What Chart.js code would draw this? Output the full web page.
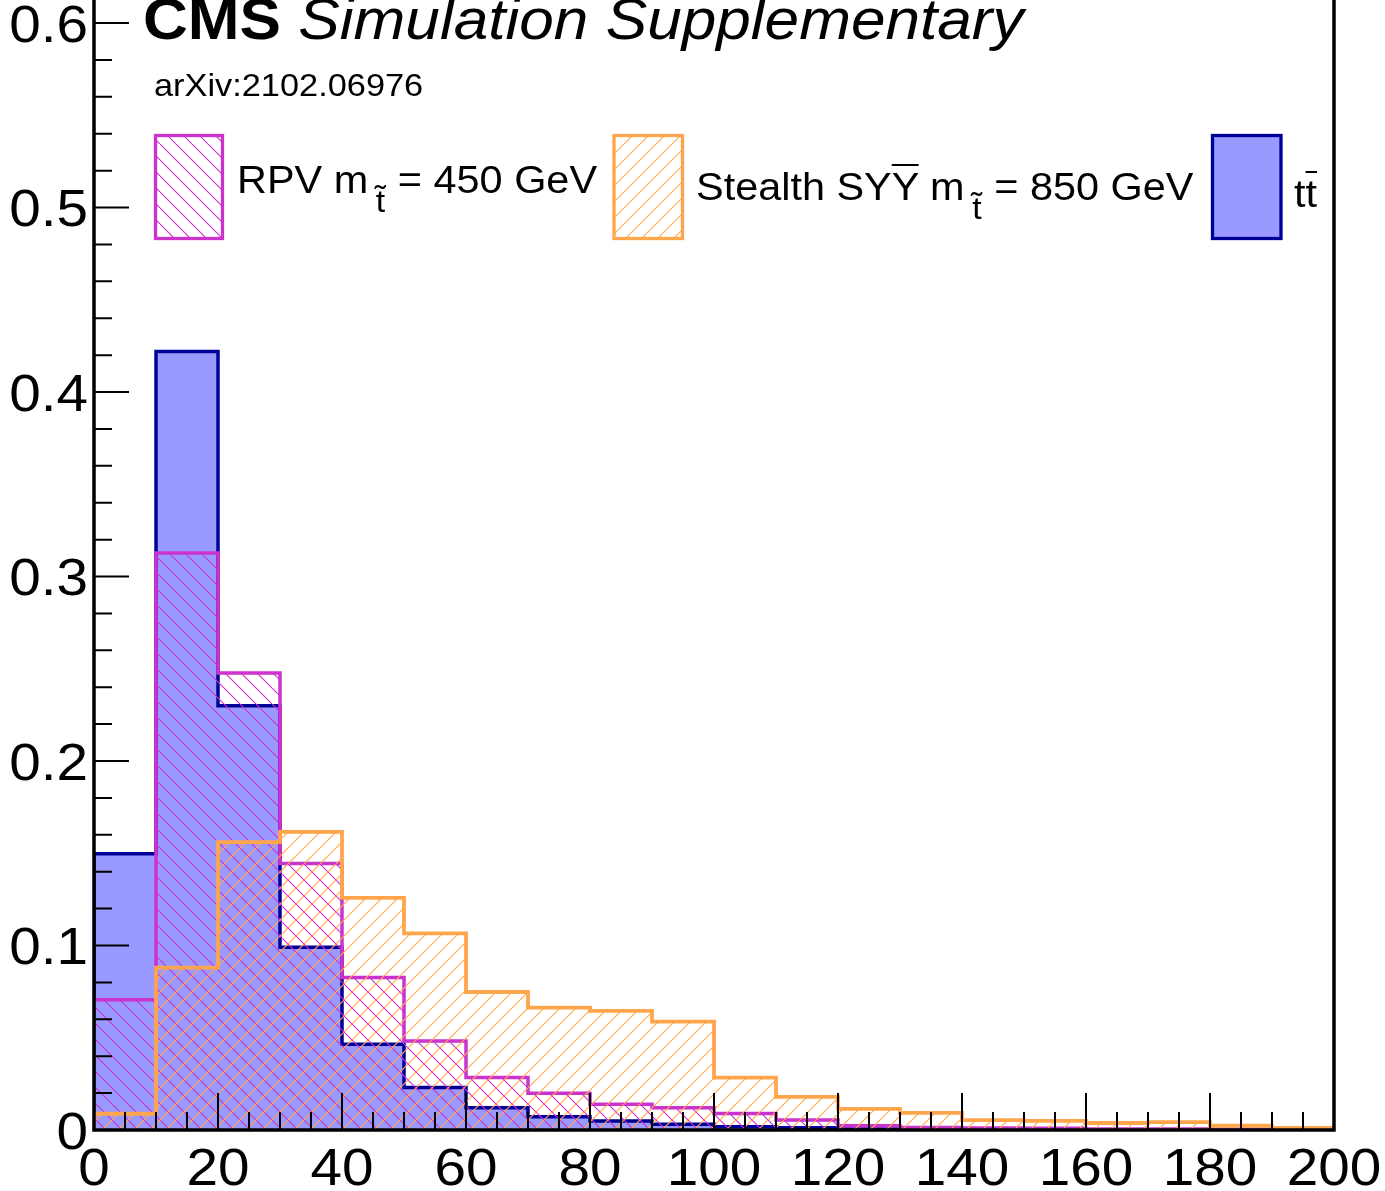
<!DOCTYPE html>
<html>
<head>
<meta charset="utf-8">
<style>
  body { margin: 0; background: #fff; }
  #wrap { position: relative; width: 1385px; height: 1191px; overflow: hidden; }
  #wrap canvas { position: absolute; left: 0; top: 0; }
  .txt { position: absolute; white-space: nowrap; font-family: "Liberation Sans", Arial, sans-serif;
         color: #000; line-height: 1; transform: scaleX(1.09); transform-origin: left top; }
  .ov { text-decoration: overline; text-decoration-thickness: 2px; }
  .sub { font-size: 31px; vertical-align: -18.5px; margin-left: 7px; margin-right: 1px; }
</style>
</head>
<body>
<div id="wrap">
  <canvas id="histo" width="1385" height="1191"></canvas>
  <div class="txt" style="left:143px; top:-9px; font-size:57px;"><b>CMS</b> <i>Simulation Supplementary</i></div>
  <div class="txt" style="left:154px; top:70px; font-size:31.5px;">arXiv:2102.06976</div>
  <div class="txt" style="left:237px; top:161px; font-size:38px;">RPV m<span class="sub">t&#x303;</span> = 450 GeV</div>
  <div class="txt" style="left:696px; top:168px; font-size:38px;">Stealth SY<span class="ov">Y</span> m<span class="sub">t&#x303;</span> = 850 GeV</div>
  <div class="txt" style="left:1294px; top:175px; font-size:38px;">t<span class="ov">t</span></div>
</div>

<script src="https://cdn.jsdelivr.net/npm/chart.js"></script>
<script>
  // lower edges of the 10-wide bins
  const binLow = [0, 10, 20, 30, 40, 50, 60, 70, 80, 90, 100, 110, 120, 130, 140, 150, 160, 170, 180, 190];
  const binWidth = 10;

  // normalised distributions
  const ttbar = [0.1497, 0.4220, 0.2300, 0.0990, 0.0465, 0.0231, 0.0121, 0.0072, 0.0049, 0.0031,
                 0.0018, 0.0012, 0.0006, 0.0004, 0.0003, 0.0002, 0.0001, 0.0001, 0.0001, 0.0001];
  const rpv450 = [0.0706, 0.3127, 0.2477, 0.1445, 0.0826, 0.0483, 0.0285, 0.0199, 0.0140, 0.0121,
                  0.0090, 0.0054, 0.0023, 0.0014, 0.0011, 0.0010, 0.0005, 0.0005, 0.0004, 0.0002];
  const stealth850 = [0.0088, 0.0880, 0.1560, 0.1616, 0.1258, 0.1066, 0.0748, 0.0663, 0.0646, 0.0587,
                      0.0284, 0.0180, 0.0114, 0.0093, 0.0054, 0.0049, 0.0038, 0.0043, 0.0023, 0.0011];

  const xTicks = ['0', '20', '40', '60', '80', '100', '120', '140', '160', '180', '200'];
  const yTicks = ['0', '0.1', '0.2', '0.3', '0.4', '0.5', '0.6'];

  const magenta = '#cc33cc';
  const orange = '#ffa64d';
  const navy = '#000099';
  const lightBlue = '#9999ff';

  // step outline of a histogram, closed down to zero at both ends
  function histPoints(vals) {
    const pts = [{ x: binLow[0], y: 0 }];
    vals.forEach((v, i) => pts.push({ x: binLow[i], y: v }));
    const end = binLow[binLow.length - 1] + binWidth;
    pts.push({ x: end, y: vals[vals.length - 1] });
    pts.push({ x: end, y: 0 });
    return pts;
  }

  // hatch pattern, dir 1 = "/" and -1 = "\"
  function hatch(color, dir) {
    const s = 16;
    const c = document.createElement('canvas');
    c.width = s; c.height = s;
    const g = c.getContext('2d');
    g.strokeStyle = color;
    g.lineWidth = 1.1;
    g.beginPath();
    for (let k = -1; k <= 1; k++) {
      if (dir > 0) { g.moveTo(k * s, s); g.lineTo(k * s + s, 0); }
      else { g.moveTo(k * s, 0); g.lineTo(k * s + s, s); }
    }
    g.stroke();
    return g.createPattern(c, 'repeat');
  }

  const ctxMain = document.getElementById('histo').getContext('2d');
  const rpvHatch = hatch(magenta, -1);
  const stealthHatch = hatch(orange, 1);

  // axes, ticks (drawn inside the frame, over the histograms) and legend boxes
  const frame = {
    id: 'frame',
    afterDatasetsDraw(chart) {
      const ctx = chart.ctx;
      const xs = chart.scales.x, ys = chart.scales.y;
      const a = chart.chartArea;
      ctx.save();
      ctx.strokeStyle = '#000';
      ctx.lineWidth = 2;
      ctx.beginPath();
      for (let v = 0; v <= 200; v += 5) {
        const px = xs.getPixelForValue(v);
        const len = v % 20 === 0 ? 37 : 18;
        ctx.moveTo(px, a.bottom); ctx.lineTo(px, a.bottom - len);
      }
      for (let k = 0; k <= 30; k++) {
        const py = ys.getPixelForValue(k * 0.02);
        if (py < a.top) continue;
        const len = k % 5 === 0 ? 35 : 18;
        ctx.moveTo(a.left, py); ctx.lineTo(a.left + len, py);
      }
      ctx.stroke();

      ctx.lineWidth = 3.5;
      ctx.beginPath();
      ctx.moveTo(a.left, a.top); ctx.lineTo(a.left, a.bottom);
      ctx.lineTo(a.right, a.bottom); ctx.lineTo(a.right, a.top);
      ctx.stroke();

      // tick labels
      ctx.fillStyle = '#000';
      ctx.font = '52px "Liberation Sans", Arial, sans-serif';
      ctx.textBaseline = 'alphabetic';
      ctx.textAlign = 'center';
      xTicks.forEach(t => {
        ctx.save();
        ctx.translate(xs.getPixelForValue(Number(t)), 1185);
        ctx.scale(1.09, 1);
        ctx.fillText(t, 0, 0);
        ctx.restore();
      });
      ctx.textAlign = 'right';
      yTicks.forEach(t => {
        ctx.save();
        ctx.translate(a.left - 6, ys.getPixelForValue(Number(t)) + 18.6);
        ctx.scale(1.09, 1);
        ctx.fillText(t, 0, 0);
        ctx.restore();
      });

      // legend boxes
      ctx.lineWidth = 3.3;
      ctx.fillStyle = rpvHatch;
      ctx.fillRect(155.5, 135.5, 67, 103);
      ctx.strokeStyle = magenta;
      ctx.strokeRect(155.5, 135.5, 67, 103);
      ctx.fillStyle = stealthHatch;
      ctx.fillRect(614, 135.5, 68.5, 103);
      ctx.strokeStyle = orange;
      ctx.strokeRect(614, 135.5, 68.5, 103);
      ctx.fillStyle = lightBlue;
      ctx.fillRect(1212.5, 135.5, 68.5, 103);
      ctx.strokeStyle = navy;
      ctx.strokeRect(1212.5, 135.5, 68.5, 103);
      ctx.restore();
    }
  };

  const chart = new Chart(ctxMain, {
    type: 'line',
    data: {
      datasets: [
        { label: 'Stealth', data: histPoints(stealth850), stepped: 'before', fill: 'origin',
          borderColor: orange, backgroundColor: stealthHatch, borderWidth: 3.8, pointRadius: 0, order: 0 },
        { label: 'RPV', data: histPoints(rpv450), stepped: 'before', fill: 'origin',
          borderColor: magenta, backgroundColor: rpvHatch, borderWidth: 3.5, pointRadius: 0, order: 1 },
        { label: 'ttbar', data: histPoints(ttbar), stepped: 'before', fill: 'origin',
          borderColor: navy, backgroundColor: lightBlue, borderWidth: 3.5, pointRadius: 0, order: 2 }
      ]
    },
    options: {
      responsive: false,
      devicePixelRatio: 1,
      animation: false,
      layout: { padding: { left: 94, right: 51, top: 0, bottom: 61 } },
      scales: {
        x: { type: 'linear', min: 0, max: 200, display: false },
        y: { type: 'linear', min: 0, max: 0.6125, display: false }
      },
      plugins: { legend: { display: false }, tooltip: { enabled: false } }
    },
    plugins: [frame]
  });
</script>
</body>
</html>
